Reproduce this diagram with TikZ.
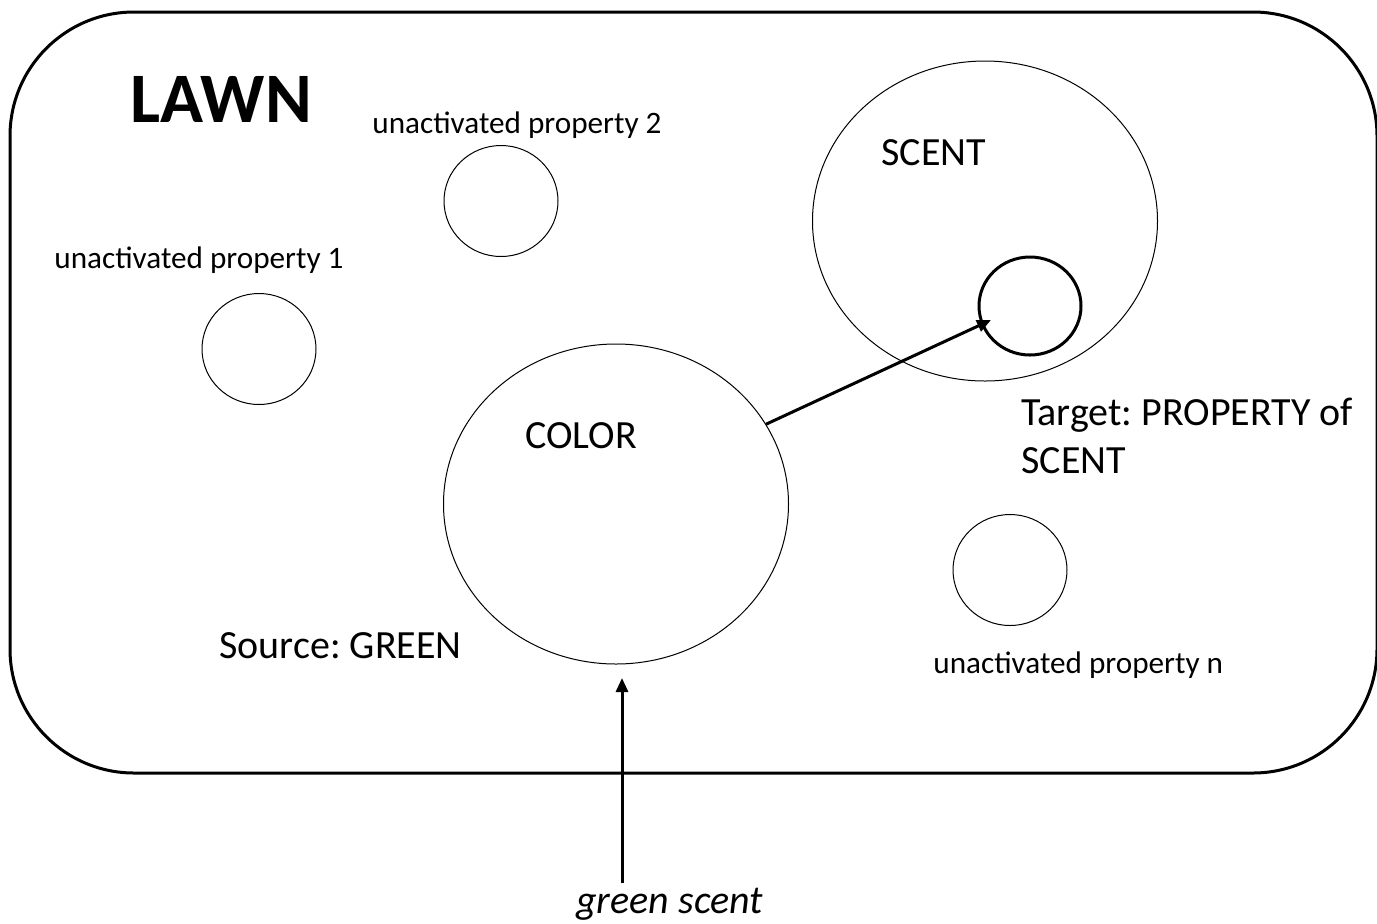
\documentclass[tikz,border=0pt]{standalone}
\usepackage{fontspec}
\setmainfont{Carlito}
\frenchspacing
\usetikzlibrary{shapes.geometric,arrows.meta}
\begin{document}
\begin{tikzpicture}[x=0.5pt,y=-0.5pt,
  lbl/.style={anchor=base west,inner sep=0pt,font=\fontsize{20pt}{24pt}\selectfont},
  small/.style={anchor=base west,inner sep=0pt,font=\fontsize{15.6pt}{18pt}\selectfont},
  prop/.style={draw,ellipse,line width=0.5pt,inner sep=0pt,minimum width=57pt,minimum height=55.5pt},
  big/.style={draw,ellipse,line width=0.5pt,inner sep=0pt,minimum width=172.5pt,minimum height=160pt},
  conn/.style={line width=1.5pt,-{Triangle[length=7pt,width=6pt]}}]
\useasboundingbox (0,0) rectangle (1377,923);
\draw[line width=1.5pt,rounded corners=62pt] (10,12) rectangle (1377,773);
\node[anchor=base west,inner sep=0pt,font=\fontsize{35.5pt}{40pt}\selectfont\bfseries] (lawn) at (130,122) {LAWN};
% property circles
\node[small] (up2) at (372,133) {unactivated property 2};
\node[prop] (p2) at (501,201) {};
\node[small] (up1) at (54,268) {unactivated property 1};
\node[prop] (p1) at (259,349) {};
\node[prop] (pn) at (1010,570) {};
\node[small] (upn) at (933,673) {unactivated property n};
% domains
\node[big] (scent) at (985,221) {};
\node[lbl] (scentl) at (881,165) {SCENT};
\node[draw,ellipse,line width=1.5pt,inner sep=0pt,minimum width=51pt,minimum height=49pt] (target) at (1030,306) {};
\node[big] (color) at (616,504) {};
\node[lbl] (colorl) at (525,448) {COLOR};
\node[lbl] (tgt1) at (1021,425) {Target: PROPERTY of};
\node[lbl] (tgt2) at (1021,473) {SCENT};
\node[lbl] (src) at (219,658) {Source: GREEN};
\node[lbl,font=\fontsize{20pt}{24pt}\selectfont\itshape] (gs) at (576,913) {green scent};
% connectors
\coordinate (tend) at (991,320);
\coordinate (gsstart) at (622,883);
\coordinate (cbot) at (622,678);
\draw[conn] (color.28) -- (tend);
\draw[conn] (gsstart) -- (cbot);
\end{tikzpicture}
\end{document}
